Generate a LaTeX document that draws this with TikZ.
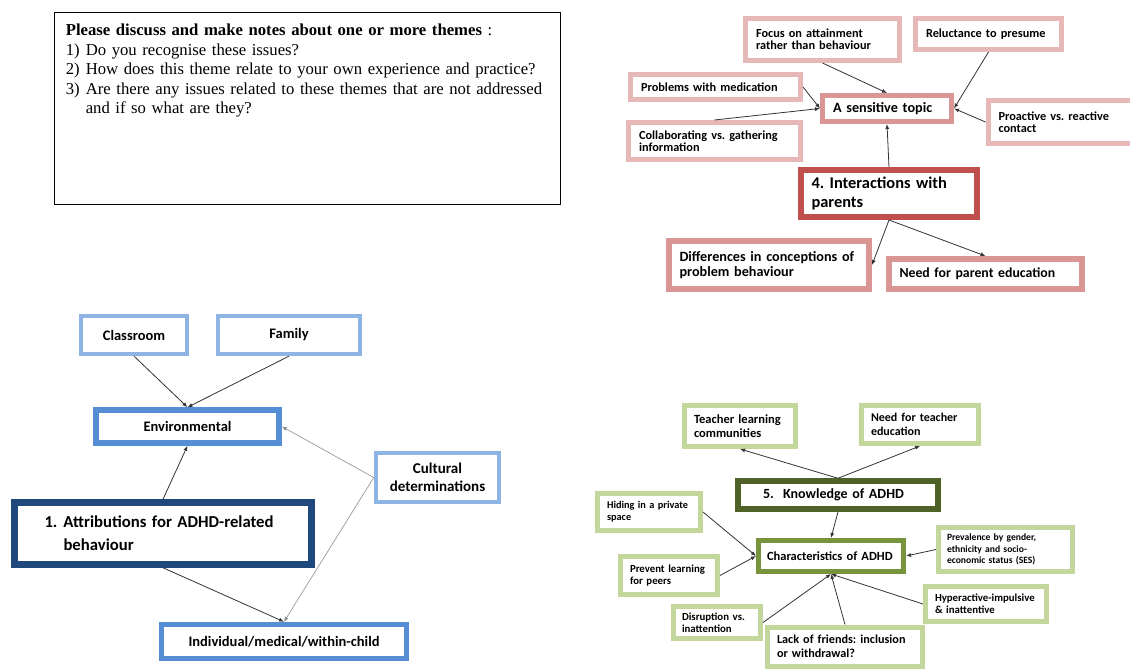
\documentclass[tikz,border=0pt]{standalone}
\usepackage{fontspec}
\setmainfont{Carlito}
\newfontfamily\instrfont{Liberation Serif}
\usetikzlibrary{arrows.meta}
\frenchspacing

\definecolor{pinkL}{HTML}{E6B9B8}
\definecolor{pinkM}{HTML}{D99694}
\definecolor{redD}{HTML}{C0504D}
\definecolor{blueL}{HTML}{8EB4E3}
\definecolor{blueM}{HTML}{558ED5}
\definecolor{blueD}{HTML}{1F497D}
\definecolor{greenL}{HTML}{C3D69B}
\definecolor{greenM}{HTML}{77933C}
\definecolor{greenD}{HTML}{4F6228}

\tikzset{
  box/.style={draw=#1, rectangle, fill=white, inner xsep=10.5pt, inner ysep=0pt, align=left},
  pinkleaf/.style={box=pinkL, line width=5pt, font=\fontsize{12.3}{12.3}\selectfont\bfseries},
  pinkmid/.style={box=pinkM, line width=6pt, font=\fontsize{14.2}{15}\selectfont\bfseries},
  blueleaf/.style={box=blueL, line width=4.3pt, align=center, font=\fontsize{14.5}{17.7}\selectfont\bfseries},
  bluemid/.style={box=blueM, line width=5.5pt, align=center, font=\fontsize{14.5}{17}\selectfont\bfseries},
  greenleaf/.style={box=greenL, line width=5pt, inner xsep=9.5pt, font=\fontsize{10.8}{12}\selectfont\bfseries},
  arr/.style={-{Latex[length=5pt,width=4pt]}, line width=0.8pt, draw=black!80},
  thinarr/.style={-{Latex[length=5pt,width=4pt]}, line width=0.6pt, draw=black!45}
}

\begin{document}
\begin{tikzpicture}[x=1pt,y=-1pt]
\useasboundingbox (0,0) rectangle (1130,669);

% instructions
\node[draw, line width=0.8pt, minimum width=506pt, minimum height=192pt, inner sep=0pt] (frame) at (307,108) {};
\node[anchor=north west, inner sep=0pt, text width=492pt, align=left,
      font=\instrfont\fontsize{16.7}{19.5}\selectfont] (instr) at ([shift={(12pt,-12.5pt)}]frame.north west)
  {\textbf{Please discuss and make notes about one or more themes} :\\
   \makebox[20pt][l]{1)}Do you recognise these issues?\\
   \makebox[20pt][l]{2)}How does this theme relate to your own experience and practice?\\
   \makebox[20pt][l]{3)}Are there any issues related to these themes that are not addressed\\
   \hspace*{20pt}and if so what are they?};

% 4. interactions with parents
\node[pinkleaf, text width=133pt, minimum height=42pt] (focus) at (822.5,39.5) {Focus on attainment\\rather than behaviour};
\node[pinkleaf, text width=125pt, minimum height=31pt] (reluct) at (988.5,34) {Reluctance to presume};
\node[pinkleaf, text width=149pt, minimum height=25pt] (med) at (715.5,87) {Problems with medication};
\node[pinkleaf, text width=151pt, minimum height=37pt] (collab) at (714.5,141) {Collaborating vs. gathering\\information};
\node[pinkleaf, text width=130pt, minimum height=43pt] (proact) at (1063.5,122) {Proactive vs. reactive\\contact};
\node[box=pinkM, line width=5pt, text width=108pt, minimum height=26pt,
      font=\fontsize{14.2}{15}\selectfont\bfseries] (sens) at (887,108.5) {A sensitive topic};
\node[box=redD, line width=6pt, text width=155pt, minimum height=47pt,
      font=\fontsize{16.4}{19.3}\selectfont\bfseries] (inter) at (889,193.5) {4. Interactions with\\parents};
\node[pinkmid, text width=179pt, minimum height=48pt] (diff) at (769,265) {Differences in conceptions of\\problem behaviour};
\node[pinkmid, font=\fontsize{13.8}{15}\selectfont\bfseries, text width=172pt, minimum height=30pt] (need) at (985.5,274) {Need for parent education};

\draw[arr] (focus.south) -- (sens.north);
\draw[arr] (reluct.south) -- (sens.east);
\draw[arr] (med.east) -- (sens.west);
\draw[arr] (collab.north) -- (sens.west);
\draw[arr] (proact.west) -- (sens.east);
\draw[arr] (inter.north) -- (sens.south);
\draw[arr] (inter.south) -- (diff.east);
\draw[arr] (inter.south) -- (need.north);

% 1. attributions
\node[blueleaf, text width=85pt, minimum height=38pt] (class) at (134,335) {Classroom};
\node[blueleaf, text width=121pt, minimum height=38pt] (family) at (289,335) {Family};
\node[bluemid, text width=162pt, minimum height=33pt] (env) at (187.5,426.5) {Environmental};
\node[box=blueL, line width=4.5pt, align=center, text width=102pt, minimum height=49pt,
      font=\fontsize{15}{17.7}\selectfont\bfseries] (cult) at (437.5,477.5) {Cultural\\determinations};
\node[box=blueD, line width=6.5pt, inner xsep=0pt, text width=297pt, minimum height=62pt,
      font=\fontsize{16.7}{23}\selectfont\bfseries] (attr) at (163,533.5)
  {\hspace*{30pt}\makebox[19pt][l]{1.}Attributions for ADHD-related\\\hspace*{49pt}behaviour};
\node[bluemid, text width=224pt, minimum height=34pt] (indiv) at (284,641.5) {Individual/medical/within-child};

\draw[arr] (class.south) -- (env.north);
\draw[arr] (family.south) -- (env.north);
\draw[arr] (attr.north) -- (env.south);
\draw[thinarr] (cult.west) -- (env.east);
\draw[thinarr] (cult.west) -- (indiv.north);
\draw[arr] (attr.south) -- (indiv.north);

% 5. knowledge of ADHD
\node[greenleaf, text width=92pt, minimum height=41pt, font=\fontsize{12.5}{14}\selectfont\bfseries] (teach) at (740,426) {Teacher learning\\communities};
\node[greenleaf, text width=98pt, minimum height=38pt, font=\fontsize{12}{14}\selectfont\bfseries] (needt) at (920,424.5) {Need for teacher\\education};
\node[box=greenD, line width=5.5pt, inner xsep=25pt, text width=150pt, minimum height=28pt,
      font=\fontsize{14}{16}\selectfont\bfseries] (know) at (838,495) {5.\ \ Knowledge of ADHD};
\node[greenleaf, text width=84pt, minimum height=37pt, font=\fontsize{10.3}{12}\selectfont\bfseries] (hide) at (649,512) {Hiding in a private\\space};
\node[box=greenM, line width=5pt, inner xsep=8.5pt, text width=128pt, minimum height=31pt,
      font=\fontsize{12.5}{14}\selectfont\bfseries] (char) at (831,556) {Characteristics of ADHD};
\node[greenleaf, inner xsep=8.5pt, text width=117pt, minimum height=44pt, font=\fontsize{9.6}{11.7}\selectfont\bfseries] (preval) at (1005.5,549.5) {Prevalence by gender,\\ethnicity and socio-\\economic status  (SES)};
\node[greenleaf, text width=78pt, minimum height=38pt] (prevent) at (669,575.5) {Prevent learning\\for peers};
\node[greenleaf, text width=102pt, minimum height=35pt] (hyper) at (986,604) {Hyperactive-impulsive\\\& inattentive};
\node[greenleaf, inner xsep=8.5pt, text width=70pt, minimum height=32pt] (disr) at (717,622.5) {Disruption vs.\\inattention};
\node[greenleaf, text width=136pt, minimum height=39pt, font=\fontsize{12.2}{14}\selectfont\bfseries] (lack) at (845,646.5) {Lack of friends: inclusion\\or withdrawal?};

\draw[arr] (know.north) -- (teach.south);
\draw[arr] (know.north) -- (needt.south);
\draw[arr] (know.south) -- (char.north);
\draw[arr] (hide.east) -- (char.west);
\draw[arr] (prevent.east) -- (char.west);
\draw[arr] (preval.west) -- (char.east);
\draw[arr] (disr.east) -- (char.south);
\draw[arr] (lack.north) -- (char.south);
\draw[arr] (hyper.west) -- (char.south);
\end{tikzpicture}
\end{document}
